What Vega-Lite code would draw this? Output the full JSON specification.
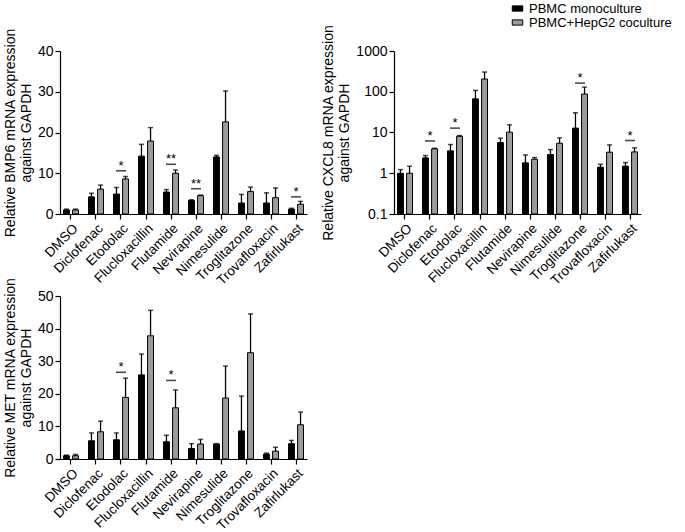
{
  "$schema": "https://vega.github.io/schema/vega-lite/v6.json",
  "padding": {"left": 3, "top": 2, "right": 2, "bottom": 0},
  "datasets": {
    "bars": [
      {"gene":"BMP6","drug":"DMSO","group":"PBMC monoculture","value":1.0,"upper":1.2},
      {"gene":"BMP6","drug":"DMSO","group":"PBMC+HepG2 coculture","value":1.0,"upper":1.2},
      {"gene":"BMP6","drug":"Diclofenac","group":"PBMC monoculture","value":4.2,"upper":5.1},
      {"gene":"BMP6","drug":"Diclofenac","group":"PBMC+HepG2 coculture","value":6.1,"upper":7.1},
      {"gene":"BMP6","drug":"Etodolac","group":"PBMC monoculture","value":4.9,"upper":6.5},
      {"gene":"BMP6","drug":"Etodolac","group":"PBMC+HepG2 coculture","value":8.6,"upper":9.2},
      {"gene":"BMP6","drug":"Flucloxacillin","group":"PBMC monoculture","value":14.2,"upper":17.1},
      {"gene":"BMP6","drug":"Flucloxacillin","group":"PBMC+HepG2 coculture","value":17.9,"upper":21.2},
      {"gene":"BMP6","drug":"Flutamide","group":"PBMC monoculture","value":5.4,"upper":6.0},
      {"gene":"BMP6","drug":"Flutamide","group":"PBMC+HepG2 coculture","value":10.0,"upper":10.8},
      {"gene":"BMP6","drug":"Nevirapine","group":"PBMC monoculture","value":3.3,"upper":3.5},
      {"gene":"BMP6","drug":"Nevirapine","group":"PBMC+HepG2 coculture","value":4.5,"upper":4.65},
      {"gene":"BMP6","drug":"Nimesulide","group":"PBMC monoculture","value":14.0,"upper":14.4},
      {"gene":"BMP6","drug":"Nimesulide","group":"PBMC+HepG2 coculture","value":22.6,"upper":30.2},
      {"gene":"BMP6","drug":"Troglitazone","group":"PBMC monoculture","value":2.7,"upper":4.8},
      {"gene":"BMP6","drug":"Troglitazone","group":"PBMC+HepG2 coculture","value":5.5,"upper":6.6},
      {"gene":"BMP6","drug":"Trovafloxacin","group":"PBMC monoculture","value":2.7,"upper":5.2},
      {"gene":"BMP6","drug":"Trovafloxacin","group":"PBMC+HepG2 coculture","value":4.0,"upper":6.4},
      {"gene":"BMP6","drug":"Zafirlukast","group":"PBMC monoculture","value":1.2,"upper":1.4},
      {"gene":"BMP6","drug":"Zafirlukast","group":"PBMC+HepG2 coculture","value":2.4,"upper":3.1},

      {"gene":"CXCL8","drug":"DMSO","group":"PBMC monoculture","value":1.0,"upper":1.23},
      {"gene":"CXCL8","drug":"DMSO","group":"PBMC+HepG2 coculture","value":1.0,"upper":1.49},
      {"gene":"CXCL8","drug":"Diclofenac","group":"PBMC monoculture","value":2.38,"upper":2.72},
      {"gene":"CXCL8","drug":"Diclofenac","group":"PBMC+HepG2 coculture","value":3.97,"upper":4.1},
      {"gene":"CXCL8","drug":"Etodolac","group":"PBMC monoculture","value":3.54,"upper":5.07},
      {"gene":"CXCL8","drug":"Etodolac","group":"PBMC+HepG2 coculture","value":8.1,"upper":8.4},
      {"gene":"CXCL8","drug":"Flucloxacillin","group":"PBMC monoculture","value":67,"upper":108},
      {"gene":"CXCL8","drug":"Flucloxacillin","group":"PBMC+HepG2 coculture","value":205,"upper":305},
      {"gene":"CXCL8","drug":"Flutamide","group":"PBMC monoculture","value":5.68,"upper":7.26},
      {"gene":"CXCL8","drug":"Flutamide","group":"PBMC+HepG2 coculture","value":10.2,"upper":15.4},
      {"gene":"CXCL8","drug":"Nevirapine","group":"PBMC monoculture","value":1.8,"upper":2.82},
      {"gene":"CXCL8","drug":"Nevirapine","group":"PBMC+HepG2 coculture","value":2.21,"upper":2.43},
      {"gene":"CXCL8","drug":"Nimesulide","group":"PBMC monoculture","value":2.88,"upper":3.82},
      {"gene":"CXCL8","drug":"Nimesulide","group":"PBMC+HepG2 coculture","value":5.47,"upper":7.4},
      {"gene":"CXCL8","drug":"Troglitazone","group":"PBMC monoculture","value":12.8,"upper":30.5},
      {"gene":"CXCL8","drug":"Troglitazone","group":"PBMC+HepG2 coculture","value":87.7,"upper":130},
      {"gene":"CXCL8","drug":"Trovafloxacin","group":"PBMC monoculture","value":1.41,"upper":1.66},
      {"gene":"CXCL8","drug":"Trovafloxacin","group":"PBMC+HepG2 coculture","value":3.28,"upper":4.97},
      {"gene":"CXCL8","drug":"Zafirlukast","group":"PBMC monoculture","value":1.49,"upper":1.83},
      {"gene":"CXCL8","drug":"Zafirlukast","group":"PBMC+HepG2 coculture","value":3.34,"upper":4.2},

      {"gene":"MET","drug":"DMSO","group":"PBMC monoculture","value":1.0,"upper":1.2},
      {"gene":"MET","drug":"DMSO","group":"PBMC+HepG2 coculture","value":1.0,"upper":1.4},
      {"gene":"MET","drug":"Diclofenac","group":"PBMC monoculture","value":5.6,"upper":8.0},
      {"gene":"MET","drug":"Diclofenac","group":"PBMC+HepG2 coculture","value":8.35,"upper":11.6},
      {"gene":"MET","drug":"Etodolac","group":"PBMC monoculture","value":5.9,"upper":8.0},
      {"gene":"MET","drug":"Etodolac","group":"PBMC+HepG2 coculture","value":18.9,"upper":24.8},
      {"gene":"MET","drug":"Flucloxacillin","group":"PBMC monoculture","value":25.8,"upper":32.2},
      {"gene":"MET","drug":"Flucloxacillin","group":"PBMC+HepG2 coculture","value":37.8,"upper":45.6},
      {"gene":"MET","drug":"Flutamide","group":"PBMC monoculture","value":5.3,"upper":7.3},
      {"gene":"MET","drug":"Flutamide","group":"PBMC+HepG2 coculture","value":15.7,"upper":21.2},
      {"gene":"MET","drug":"Nevirapine","group":"PBMC monoculture","value":3.2,"upper":4.7},
      {"gene":"MET","drug":"Nevirapine","group":"PBMC+HepG2 coculture","value":4.6,"upper":6.0},
      {"gene":"MET","drug":"Nimesulide","group":"PBMC monoculture","value":4.6,"upper":4.7},
      {"gene":"MET","drug":"Nimesulide","group":"PBMC+HepG2 coculture","value":18.7,"upper":28.5},
      {"gene":"MET","drug":"Troglitazone","group":"PBMC monoculture","value":8.6,"upper":19.3},
      {"gene":"MET","drug":"Troglitazone","group":"PBMC+HepG2 coculture","value":32.6,"upper":44.5},
      {"gene":"MET","drug":"Trovafloxacin","group":"PBMC monoculture","value":1.5,"upper":1.8},
      {"gene":"MET","drug":"Trovafloxacin","group":"PBMC+HepG2 coculture","value":2.4,"upper":3.6},
      {"gene":"MET","drug":"Zafirlukast","group":"PBMC monoculture","value":4.7,"upper":5.7},
      {"gene":"MET","drug":"Zafirlukast","group":"PBMC+HepG2 coculture","value":10.5,"upper":14.4}
    ],
    "sig": [
      {"gene":"BMP6","drug":"Etodolac","y":10.6,"label":"*"},
      {"gene":"BMP6","drug":"Flutamide","y":12.2,"label":"**"},
      {"gene":"BMP6","drug":"Nevirapine","y":6.2,"label":"**"},
      {"gene":"BMP6","drug":"Zafirlukast","y":4.2,"label":"*"},
      {"gene":"CXCL8","drug":"Diclofenac","y":6.2,"label":"*"},
      {"gene":"CXCL8","drug":"Etodolac","y":12.8,"label":"*"},
      {"gene":"CXCL8","drug":"Troglitazone","y":163,"label":"*"},
      {"gene":"CXCL8","drug":"Zafirlukast","y":6.36,"label":"*"},
      {"gene":"MET","drug":"Etodolac","y":26.6,"label":"*"},
      {"gene":"MET","drug":"Flutamide","y":24.1,"label":"*"}
    ]
  },
  "vconcat": [
    {
      "hconcat": [
        {
          "width": 247, "height": 163,
          "layer": [
            {"data": {"name": "bars"}, "transform": [{"filter": "datum.gene === 'BMP6'"}],
             "mark": {"type": "bar", "stroke": "#000", "strokeWidth": 1},
             "encoding": {
               "x": {"field": "drug", "type": "nominal", "sort": null, "scale": {"domain": ["DMSO","Diclofenac","Etodolac","Flucloxacillin","Flutamide","Nevirapine","Nimesulide","Troglitazone","Trovafloxacin","Zafirlukast"], "paddingInner": 0.4, "paddingOuter": 0.14}, "axis": {"title": null, "labelAngle": -45, "labelFontSize": 13.5}},
               "xOffset": {"field": "group", "type": "nominal", "scale": {"domain": ["PBMC monoculture","PBMC+HepG2 coculture"], "paddingInner": 0.35, "paddingOuter": 0}},
               "y": {"field": "value", "type": "quantitative", "scale": {"domain": [0, 40], "nice": false}, "axis": {"values": [0,10,20,30,40], "tickCount": 10, "title": ["Relative BMP6 mRNA expression", "against GAPDH"]}},
               "fill": {"field": "group", "type": "nominal", "scale": {"domain": ["PBMC monoculture","PBMC+HepG2 coculture"], "range": ["#000000", "#9b9b9b"]}, "legend": {"orient": "none", "legendX": 451, "legendY": -49, "title": null}}
             }},
            {"data": {"name": "bars"}, "transform": [{"filter": "datum.gene === 'BMP6'"}],
             "mark": {"type": "rule", "color": "#000", "strokeWidth": 1.3},
             "encoding": {
               "x": {"field": "drug", "type": "nominal", "sort": null},
               "xOffset": {"field": "group", "type": "nominal"},
               "y": {"field": "value", "type": "quantitative", "scale": {"domain": [0, 40], "nice": false}},
               "y2": {"field": "upper"}
             }},
            {"data": {"name": "bars"}, "transform": [{"filter": "datum.gene === 'BMP6'"}],
             "mark": {"type": "tick", "orient": "horizontal", "color": "#000", "size": 5, "thickness": 1.5},
             "encoding": {
               "x": {"field": "drug", "type": "nominal", "sort": null},
               "xOffset": {"field": "group", "type": "nominal"},
               "y": {"field": "upper", "type": "quantitative", "scale": {"domain": [0, 40], "nice": false}}
             }},
            {"data": {"name": "sig"}, "transform": [{"filter": "datum.gene === 'BMP6'"}],
             "mark": {"type": "tick", "orient": "horizontal", "color": "#000", "size": 10, "thickness": 1.6},
             "encoding": {
               "x": {"field": "drug", "type": "nominal", "sort": null},
               "y": {"field": "y", "type": "quantitative", "scale": {"domain": [0, 40], "nice": false}}
             }},
            {"data": {"name": "sig"}, "transform": [{"filter": "datum.gene === 'BMP6'"}],
             "mark": {"type": "text", "fill": "#000", "fontSize": 13, "dy": -1, "baseline": "alphabetic", "font": "Liberation Sans"},
             "encoding": {
               "x": {"field": "drug", "type": "nominal", "sort": null},
               "y": {"field": "y", "type": "quantitative", "scale": {"domain": [0, 40], "nice": false}},
               "text": {"field": "label"}
             }}
          ]
        },
        {
          "width": 247, "height": 163,
          "layer": [
            {"data": {"name": "bars"}, "transform": [{"filter": "datum.gene === 'CXCL8'"}],
             "mark": {"type": "bar", "stroke": "#000", "strokeWidth": 1},
             "encoding": {
               "x": {"field": "drug", "type": "nominal", "sort": null, "scale": {"domain": ["DMSO","Diclofenac","Etodolac","Flucloxacillin","Flutamide","Nevirapine","Nimesulide","Troglitazone","Trovafloxacin","Zafirlukast"], "paddingInner": 0.4, "paddingOuter": 0.14}, "axis": {"title": null, "labelAngle": -45, "labelFontSize": 13.5}},
               "xOffset": {"field": "group", "type": "nominal", "scale": {"domain": ["PBMC monoculture","PBMC+HepG2 coculture"], "paddingInner": 0.35, "paddingOuter": 0}},
               "y": {"field": "value", "type": "quantitative", "scale": {"type": "log", "domain": [0.1, 1000], "nice": false}, "axis": {"values": [0.1,1,10,100,1000], "tickCount": 10, "format": "~g", "title": ["Relative CXCL8 mRNA expression", "against GAPDH"]}},
               "y2": {"datum": 0.1},
               "fill": {"field": "group", "type": "nominal", "scale": {"domain": ["PBMC monoculture","PBMC+HepG2 coculture"], "range": ["#000000", "#9b9b9b"]}, "legend": {"orient": "none", "legendX": 451, "legendY": -49, "title": null}}
             }},
            {"data": {"name": "bars"}, "transform": [{"filter": "datum.gene === 'CXCL8'"}],
             "mark": {"type": "rule", "color": "#000", "strokeWidth": 1.3},
             "encoding": {
               "x": {"field": "drug", "type": "nominal", "sort": null},
               "xOffset": {"field": "group", "type": "nominal"},
               "y": {"field": "value", "type": "quantitative", "scale": {"type": "log", "domain": [0.1, 1000], "nice": false}},
               "y2": {"field": "upper"}
             }},
            {"data": {"name": "bars"}, "transform": [{"filter": "datum.gene === 'CXCL8'"}],
             "mark": {"type": "tick", "orient": "horizontal", "color": "#000", "size": 5, "thickness": 1.5},
             "encoding": {
               "x": {"field": "drug", "type": "nominal", "sort": null},
               "xOffset": {"field": "group", "type": "nominal"},
               "y": {"field": "upper", "type": "quantitative", "scale": {"type": "log", "domain": [0.1, 1000], "nice": false}}
             }},
            {"data": {"name": "sig"}, "transform": [{"filter": "datum.gene === 'CXCL8'"}],
             "mark": {"type": "tick", "orient": "horizontal", "color": "#000", "size": 10, "thickness": 1.6},
             "encoding": {
               "x": {"field": "drug", "type": "nominal", "sort": null},
               "y": {"field": "y", "type": "quantitative", "scale": {"type": "log", "domain": [0.1, 1000], "nice": false}}
             }},
            {"data": {"name": "sig"}, "transform": [{"filter": "datum.gene === 'CXCL8'"}],
             "mark": {"type": "text", "fill": "#000", "fontSize": 13, "dy": -1, "baseline": "alphabetic", "font": "Liberation Sans"},
             "encoding": {
               "x": {"field": "drug", "type": "nominal", "sort": null},
               "y": {"field": "y", "type": "quantitative", "scale": {"type": "log", "domain": [0.1, 1000], "nice": false}},
               "text": {"field": "label"}
             }}
          ]
        }
      ],
      "spacing": 14
    },
    {
      "width": 247, "height": 163,
      "layer": [
        {"data": {"name": "bars"}, "transform": [{"filter": "datum.gene === 'MET'"}],
         "mark": {"type": "bar", "stroke": "#000", "strokeWidth": 1},
         "encoding": {
           "x": {"field": "drug", "type": "nominal", "sort": null, "scale": {"domain": ["DMSO","Diclofenac","Etodolac","Flucloxacillin","Flutamide","Nevirapine","Nimesulide","Troglitazone","Trovafloxacin","Zafirlukast"], "paddingInner": 0.4, "paddingOuter": 0.14}, "axis": {"title": null, "labelAngle": -45, "labelFontSize": 13.5}},
           "xOffset": {"field": "group", "type": "nominal", "scale": {"domain": ["PBMC monoculture","PBMC+HepG2 coculture"], "paddingInner": 0.35, "paddingOuter": 0}},
           "y": {"field": "value", "type": "quantitative", "scale": {"domain": [0, 50], "nice": false}, "axis": {"values": [0,10,20,30,40,50], "tickCount": 10, "title": ["Relative MET mRNA expression", "against GAPDH"]}},
           "fill": {"field": "group", "type": "nominal", "scale": {"domain": ["PBMC monoculture","PBMC+HepG2 coculture"], "range": ["#000000", "#9b9b9b"]}, "legend": {"orient": "none", "legendX": 451, "legendY": -49, "title": null}}
         }},
        {"data": {"name": "bars"}, "transform": [{"filter": "datum.gene === 'MET'"}],
         "mark": {"type": "rule", "color": "#000", "strokeWidth": 1.3},
         "encoding": {
           "x": {"field": "drug", "type": "nominal", "sort": null},
           "xOffset": {"field": "group", "type": "nominal"},
           "y": {"field": "value", "type": "quantitative", "scale": {"domain": [0, 50], "nice": false}},
           "y2": {"field": "upper"}
         }},
        {"data": {"name": "bars"}, "transform": [{"filter": "datum.gene === 'MET'"}],
         "mark": {"type": "tick", "orient": "horizontal", "color": "#000", "size": 5, "thickness": 1.5},
         "encoding": {
           "x": {"field": "drug", "type": "nominal", "sort": null},
           "xOffset": {"field": "group", "type": "nominal"},
           "y": {"field": "upper", "type": "quantitative", "scale": {"domain": [0, 50], "nice": false}}
         }},
        {"data": {"name": "sig"}, "transform": [{"filter": "datum.gene === 'MET'"}],
         "mark": {"type": "tick", "orient": "horizontal", "color": "#000", "size": 10, "thickness": 1.6},
         "encoding": {
           "x": {"field": "drug", "type": "nominal", "sort": null},
           "y": {"field": "y", "type": "quantitative", "scale": {"domain": [0, 50], "nice": false}}
         }},
        {"data": {"name": "sig"}, "transform": [{"filter": "datum.gene === 'MET'"}],
         "mark": {"type": "text", "fill": "#000", "fontSize": 13, "dy": -1, "baseline": "alphabetic", "font": "Liberation Sans"},
         "encoding": {
           "x": {"field": "drug", "type": "nominal", "sort": null},
           "y": {"field": "y", "type": "quantitative", "scale": {"domain": [0, 50], "nice": false}},
           "text": {"field": "label"}
         }}
      ]
    }
  ],
  "spacing": -10,
  "config": {
    "view": {"stroke": null},
    "font": "Liberation Sans",
    "axis": {"domainColor": "#000", "tickColor": "#000", "labelColor": "#000", "titleColor": "#000", "grid": false, "labelFontSize": 14, "titleFontSize": 14, "titleFontWeight": "normal", "tickSize": 5, "domainWidth": 1.2, "tickWidth": 1.2, "labelFont": "Liberation Sans", "titleFont": "Liberation Sans", "titleLineHeight": 16, "labelOverlap": false, "labelPadding": 2},
    "legend": {"symbolType": "M-1,-0.5H1V0.5H-1Z", "symbolSize": 110, "symbolStrokeColor": "#000", "symbolStrokeWidth": 1, "labelFontSize": 13, "labelFont": "Liberation Sans", "labelColor": "#000", "labelOffset": 5, "rowPadding": 0, "padding": 0}
  }
}
